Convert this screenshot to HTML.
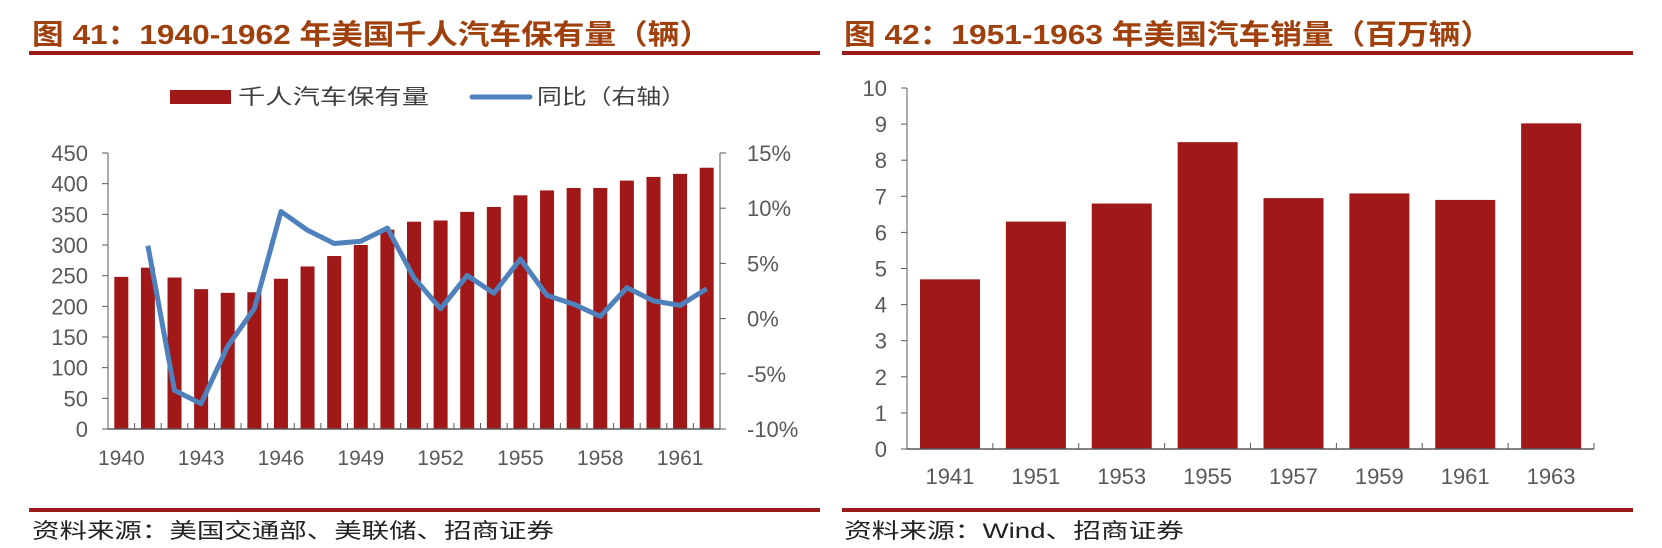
<!DOCTYPE html>
<html><head><meta charset="utf-8"><style>
html,body{margin:0;padding:0;background:#fff;}
svg{display:block;font-family:"Liberation Sans","Noto Sans CJK SC",sans-serif;}
</style></head><body>
<svg id="svg" width="1662" height="548" viewBox="0 0 1662 548">
<g>
<text x="32" y="44" font-size="28" font-weight="bold" fill="#A0410D" textLength="679" lengthAdjust="spacingAndGlyphs">图 41：1940-1962 年美国千人汽车保有量（辆）</text>
<rect x="29" y="51" width="791" height="4" fill="#9B1B1B"/>
<rect x="170" y="90" width="61" height="14" fill="#A01818"/>
<text x="238" y="104" font-size="21" fill="#404040" textLength="191" lengthAdjust="spacingAndGlyphs">千人汽车保有量</text>
<line x1="472" y1="97" x2="530" y2="97" stroke="#4F81BD" stroke-width="5" stroke-linecap="round"/>
<text x="537" y="104" font-size="21" fill="#404040" textLength="149" lengthAdjust="spacingAndGlyphs">同比（右轴）</text>
<g id="left"></g>
<rect x="29" y="508" width="791" height="4" fill="#9B1B1B"/>
<text x="32" y="538" font-size="21" fill="#222" textLength="522" lengthAdjust="spacingAndGlyphs">资料来源：美国交通部、美联储、招商证券</text>
</g>
<g>
<text x="844" y="44" font-size="28" font-weight="bold" fill="#A0410D" textLength="648" lengthAdjust="spacingAndGlyphs">图 42：1951-1963 年美国汽车销量（百万辆）</text>
<rect x="842" y="51" width="791" height="4" fill="#9B1B1B"/>
<g id="right"></g>
<rect x="842" y="508" width="791" height="4" fill="#9B1B1B"/>
<text x="844" y="538" font-size="21" fill="#222" textLength="340" lengthAdjust="spacingAndGlyphs">资料来源：Wind、招商证券</text>
</g>
</svg>
<script>
const leftYears = [1940,1941,1942,1943,1944,1945,1946,1947,1948,1949,1950,1951,1952,1953,1954,1955,1956,1957,1958,1959,1960,1961,1962];
const ownership = [248,263,247,228,222,223,245,265,282,300,325,338,340,354,362,381,389,393,393,405,411,416,426];
const yoyPct = [null,6.6,-6.5,-7.7,-2.5,0.9,9.7,8.0,6.8,7.0,8.2,3.7,0.9,3.9,2.3,5.4,2.1,1.3,0.2,2.8,1.6,1.2,2.7];
const leftTicks = [0,50,100,150,200,250,300,350,400,450];
const rightTicks = [-10,-5,0,5,10,15];
const xLabelEvery = 3;
const salesYears = ['1941','1951','1953','1955','1957','1959','1961','1963'];
const sales = [4.7,6.3,6.8,8.5,6.95,7.08,6.9,9.02];
const salesTicks = [0,1,2,3,4,5,6,7,8,9,10];

const NS='http://www.w3.org/2000/svg';
function mk(parent,tag,attrs){const e=document.createElementNS(NS,tag);for(const k in attrs)e.setAttribute(k,attrs[k]);parent.appendChild(e);return e;}

// left chart
const L=document.getElementById('left');
const lx0=108,lx1=720,ly0=429,ly1=153;
const cw=(lx1-lx0)/leftYears.length;
const yL=v=>ly0-(v/450)*(ly0-ly1);
const yR=v=>ly0-((v+10)/25)*(ly0-ly1);
const xC=i=>lx0+cw*(i+0.5);
leftTicks.forEach(t=>{
  const ln=mk(L,'line',{x1:lx0-6,x2:lx0,y1:yL(t),y2:yL(t),stroke:'#595959'});
  
  
  const tx=mk(L,'text',{x:lx0-20,y:yL(t)+8,'font-size':22,'text-anchor':'end',fill:'#595959'});
  tx.textContent=t;
  
  
});
rightTicks.forEach(t=>{
  const ln=mk(L,'line',{x1:lx1,x2:lx1+6,y1:yR(t),y2:yR(t),stroke:'#595959'});
  
  
  const tx=mk(L,'text',{x:lx1+27,y:yR(t)+8,'font-size':22,'text-anchor':'start',fill:'#595959'});
  tx.textContent=t+'%';
  
  
});
ownership.forEach((v,i)=>{
  const r=mk(L,'rect',{x:xC(i)-7,y:yL(v),width:14,height:ly0-yL(v),fill:'#A01818'});
  
  
});
for(let i=0;i<=leftYears.length;i++){
  const ln=mk(L,'line',{x1:lx0+cw*i,x2:lx0+cw*i,y1:ly0-6,y2:ly0,stroke:'#595959'});
  
  
}
leftYears.forEach((y,i)=>{
  if(i%xLabelEvery) return;
  const tx=mk(L,'text',{x:xC(i),y:465,'font-size':21,'text-anchor':'middle',fill:'#595959'});
  tx.textContent=y;
  
  
});
const la=mk(L,'line',{x1:lx0,x2:lx0,y1:ly1,y2:ly0,stroke:'#595959'});


const ra=mk(L,'line',{x1:lx1,x2:lx1,y1:ly1,y2:ly0,stroke:'#595959'});


const xa=mk(L,'line',{x1:lx0,x2:lx1,y1:ly0,y2:ly0,stroke:'#595959','stroke-width':1.5});


let d='';
yoyPct.forEach((v,i)=>{if(v===null)return;d+=(d?'L':'M')+xC(i).toFixed(1)+','+yR(v).toFixed(1);});
const pl=mk(L,'path',{d:d,fill:'none',stroke:'#4F81BD','stroke-width':5,'stroke-linejoin':'round'});



// right chart
const R=document.getElementById('right');
const rx0=907,rx1=1594,ry0=449,ry1=88;
const rcw=(rx1-rx0)/salesYears.length;
const yS=v=>ry0-(v/10)*(ry0-ry1);
salesTicks.forEach(t=>{
  const ln=mk(R,'line',{x1:rx0-6,x2:rx0,y1:yS(t),y2:yS(t),stroke:'#595959'});
  
  
  const tx=mk(R,'text',{x:887,y:yS(t)+8,'font-size':22,'text-anchor':'end',fill:'#595959'});
  tx.textContent=t;
  
  
});
sales.forEach((v,i)=>{
  const r=mk(R,'rect',{x:rx0+rcw*i+13,y:yS(v),width:60,height:ry0-yS(v),fill:'#A01818'});
  
  
  const tx=mk(R,'text',{x:rx0+rcw*(i+0.5),y:484,'font-size':22,'text-anchor':'middle',fill:'#595959'});
  tx.textContent=salesYears[i];
  
  
});
for(let i=0;i<=salesYears.length;i++){
  const ln=mk(R,'line',{x1:rx0+rcw*i,x2:rx0+rcw*i,y1:ry0-6,y2:ry0,stroke:'#595959'});
  
  
}
const sa=mk(R,'line',{x1:rx0,x2:rx0,y1:ry1,y2:ry0,stroke:'#595959'});


const sx=mk(R,'line',{x1:rx0,x2:rx1,y1:ry0,y2:ry0,stroke:'#595959','stroke-width':1.5});


</script>
</body></html>
